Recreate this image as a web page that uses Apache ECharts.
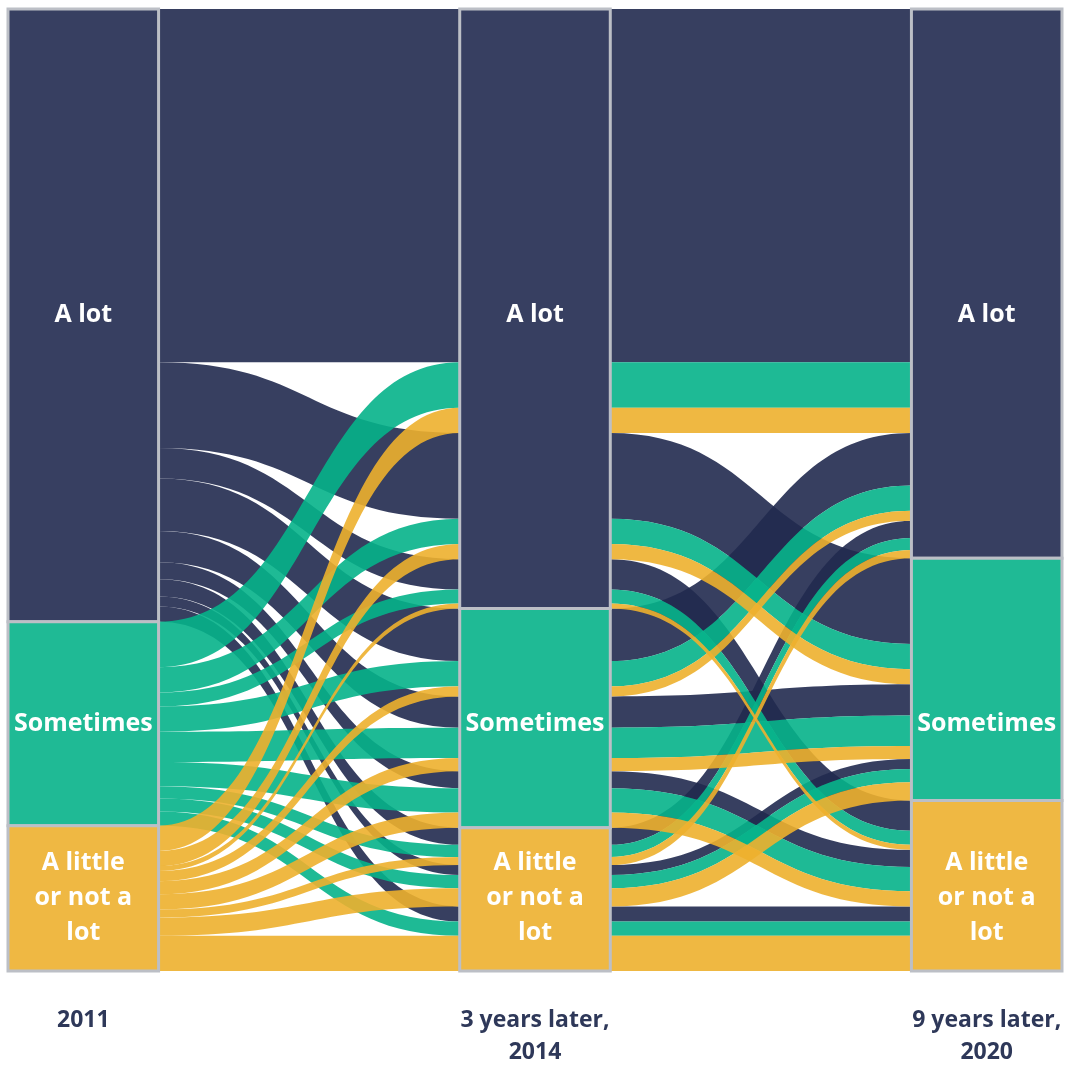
<!DOCTYPE html>
<html>
<head>
<meta charset="utf-8">
<script src="https://cdn.jsdelivr.net/npm/echarts@6/dist/echarts.min.js"></script>
<style>
html,body{margin:0;padding:0;background:#ffffff;}
#chart{width:1071px;height:1066px;}
</style>
</head>
<body>
<div id="chart"></div>
<script>
// ---- data ----
const years = ['2011', '3 years later,\n2014', '9 years later,\n2020'];
const categories = ['A lot', 'Sometimes', 'A little\nor not a\nlot'];
// Size of each trajectory, grouped by the 2011 answer.
// rows: answer in 2014 (A lot, Sometimes, A little); columns: answer in 2020 (same order)
const aLot2011 = [[350, 85, 30], [52, 31, 17], [17, 10, 15]];
const sometimes2011 = [[45, 25, 14], [25, 30, 24], [12, 13, 14]];
const little2011 = [[25, 15, 5], [10, 13, 15], [8, 18, 35]];

// ---- styles ----
const colors = ['#373f61', '#1fba95', '#efb843'];
const linkAlpha = 0.9;
const borderColor = '#bcbfc6';
const textNavy = '#2e3859';

// link colour chosen so that, drawn with linkAlpha over white, it matches the block colour
function linkColor(hex) {
  const n = parseInt(hex.slice(1), 16);
  const ch = [(n >> 16) & 255, (n >> 8) & 255, n & 255]
    .map(c => Math.max(0, Math.round((c - 255 * (1 - linkAlpha)) / linkAlpha)));
  return 'rgba(' + ch.join(',') + ',' + linkAlpha + ')';
}
const linkColors = colors.map(linkColor);

// ---- build trajectories ----
const paths = [];
[aLot2011, sometimes2011, little2011].forEach((m, a) =>
  m.forEach((row, b) => row.forEach((v, c) => { if (v > 0) paths.push({a, b, c, v}); })));
const total = paths.reduce((s, p) => s + p.v, 0);

function stack(keyFn) {
  const order = paths.map((p, i) => i).sort((i, j) => {
    const ki = keyFn(paths[i]), kj = keyFn(paths[j]);
    for (let k = 0; k < ki.length; k++) if (ki[k] !== kj[k]) return ki[k] - kj[k];
    return 0;
  });
  const pos = new Array(paths.length);
  let acc = 0;
  order.forEach(i => { pos[i] = [acc, acc + paths[i].v]; acc += paths[i].v; });
  return pos;
}
// order of strands inside each column
const pos = [
  stack(p => [p.a, p.b, p.c]),
  stack(p => [p.b, p.c, p.a]),
  stack(p => [p.c, p.b, p.a])
];
const catOf = [p => p.a, p => p.b, p => p.c];

// node extents
const nodeData = [];
for (let col = 0; col < 3; col++) {
  for (let k = 0; k < 3; k++) {
    let s = Infinity, e = -Infinity;
    paths.forEach((p, i) => {
      if (catOf[col](p) === k) { s = Math.min(s, pos[col][i][0]); e = Math.max(e, pos[col][i][1]); }
    });
    nodeData.push([col, s, e, k]);
  }
}
// labels sit at the centre of the 2011 blocks in every column
const labelY = [0, 1, 2].map(k => {
  const n = nodeData.find(d => d[0] === 0 && d[3] === k);
  return (n[1] + n[2]) / 2;
});
nodeData.forEach(d => d.push(labelY[d[3]]));

// link segments
const linkData = [];
for (let panel = 0; panel < 2; panel++) {
  const idx = paths.map((p, i) => i).sort((i, j) => paths[i].a - paths[j].a);
  idx.forEach(i => {
    linkData.push([3 * panel + 1, pos[panel][i][0], pos[panel][i][1],
                   3 * panel + 3, pos[panel + 1][i][0], pos[panel + 1][i][1], paths[i].a]);
  });
}
const yearData = years.map((y, i) => [3 * i + 0.5, total, i]);

const chart = echarts.init(document.getElementById('chart'), null, {renderer: 'canvas'});
chart.setOption({
  animation: false,
  backgroundColor: '#ffffff',
  grid: {left: 8, right: 9, top: 9, bottom: 95},
  xAxis: {type: 'value', min: 0, max: 7, show: false},
  yAxis: {type: 'value', min: 0, max: total, inverse: true, show: false},
  series: [
    {
      type: 'custom',
      data: linkData,
      z: 1,
      renderItem: (params, api) => {
        const p0t = api.coord([api.value(0), api.value(1)]);
        const p0b = api.coord([api.value(0), api.value(2)]);
        const p1t = api.coord([api.value(3), api.value(4)]);
        const p1b = api.coord([api.value(3), api.value(5)]);
        const xm = (p0t[0] + p1t[0]) / 2;
        const d = 'M' + p0t[0] + ',' + p0t[1] +
          ' C' + xm + ',' + p0t[1] + ' ' + xm + ',' + p1t[1] + ' ' + p1t[0] + ',' + p1t[1] +
          ' L' + p1b[0] + ',' + p1b[1] +
          ' C' + xm + ',' + p1b[1] + ' ' + xm + ',' + p0b[1] + ' ' + p0b[0] + ',' + p0b[1] + ' Z';
        return {
          type: 'path',
          shape: {pathData: d},
          style: {fill: linkColors[api.value(6)]}
        };
      }
    },
    {
      type: 'custom',
      data: nodeData,
      z: 3,
      renderItem: (params, api) => {
        const col = api.value(0);
        const tl = api.coord([3 * col, api.value(1)]);
        const br = api.coord([3 * col + 1, api.value(2)]);
        const ly = api.coord([3 * col + 0.5, api.value(4)]);
        const k = api.value(3);
        return {
          type: 'group',
          children: [
            {
              type: 'rect',
              shape: {x: tl[0], y: tl[1], width: br[0] - tl[0], height: br[1] - tl[1]},
              style: {fill: colors[k], stroke: borderColor, lineWidth: 3}
            },
            {
              type: 'text',
              x: ly[0], y: ly[1],
              style: {
                text: categories[k], fill: '#ffffff',
                font: 'bold 25px "Open Sans", sans-serif',
                align: 'center', verticalAlign: 'middle', lineHeight: 35
              }
            }
          ]
        };
      }
    },
    {
      type: 'custom',
      data: yearData,
      z: 4,
      renderItem: (params, api) => {
        const p = api.coord([api.value(0), api.value(1)]);
        return {
          type: 'text',
          x: p[0], y: p[1] + 33,
          style: {
            text: years[api.value(2)], fill: textNavy,
            font: 'bold 23px "Open Sans", sans-serif',
            align: 'center', verticalAlign: 'top', lineHeight: 32
          }
        };
      }
    }
  ]
});
</script>
</body>
</html>
